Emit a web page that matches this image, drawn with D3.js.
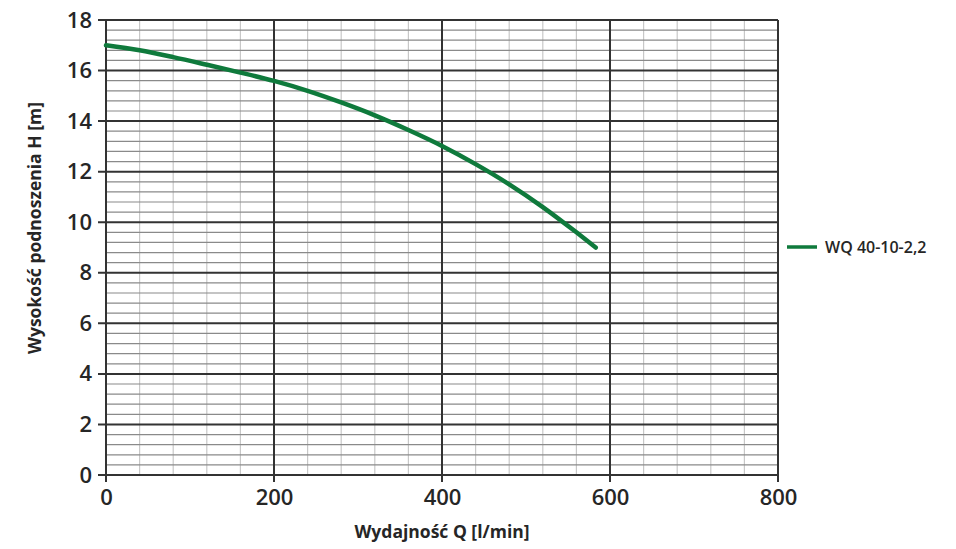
<!DOCTYPE html>
<html>
<head>
<meta charset="utf-8">
<script src="https://cdn.jsdelivr.net/npm/d3@7"></script>
<style>
  body { margin: 0; background: #fff; }
  text { font-family: "Open Sans", sans-serif; fill: #262626; }
</style>
</head>
<body>
<div id="chart"></div>
<script>
// flow Q [l/min] and head H [m]
var flowQ = [0, 40, 80, 120, 160, 200, 240, 280, 320, 360, 400, 440, 480, 520, 560, 583];
var headH = [17.0, 16.8, 16.53, 16.23, 15.92, 15.59, 15.2, 14.74, 14.23, 13.65, 13.02, 12.3, 11.5, 10.6, 9.6, 9.0];
var seriesName = "WQ 40-10-2,2";
var xTicks = [0, 200, 400, 600, 800];
var yTicks = [0, 2, 4, 6, 8, 10, 12, 14, 16, 18];

function init() {
    var width = 956, height = 549;
    var left = 106, right = 778, top = 20, bottom = 475;

    var x = d3.scaleLinear().domain([0, 800]).range([left, right]);
    var y = d3.scaleLinear().domain([0, 18]).range([bottom, top]);

    var svg = d3.select("#chart").append("svg")
        .attr("width", width)
        .attr("height", height);

    // minor grid
    var xMinor = d3.range(0, 801, 40).filter(d => d % 200 !== 0);
    var yMinor = d3.range(0, 90, 2).map(d => d / 5).filter(d => Math.abs(d / 2 - Math.round(d / 2)) > 1e-6);

    svg.append("g").selectAll("line")
        .data(xMinor)
        .enter().append("line")
        .attr("x1", d => x(d)).attr("x2", d => x(d))
        .attr("y1", top).attr("y2", bottom)
        .attr("stroke", "#c8c8c8")
        .attr("stroke-width", 1.2);

    svg.append("g").selectAll("line")
        .data(yMinor)
        .enter().append("line")
        .attr("x1", left).attr("x2", right)
        .attr("y1", d => y(d)).attr("y2", d => y(d))
        .attr("stroke", "#8a8a8a")
        .attr("stroke-width", 1.2);

    // major grid
    svg.append("g").selectAll("line")
        .data(xTicks)
        .enter().append("line")
        .attr("x1", d => x(d)).attr("x2", d => x(d))
        .attr("y1", top).attr("y2", bottom + 7)
        .attr("stroke", "#333")
        .attr("stroke-width", 2);

    svg.append("g").selectAll("line")
        .data(yTicks)
        .enter().append("line")
        .attr("x1", left - 8).attr("x2", right)
        .attr("y1", d => y(d)).attr("y2", d => y(d))
        .attr("stroke", "#333")
        .attr("stroke-width", 2);

    // axes (labels only)
    var xAxis = d3.axisBottom(x).tickValues(xTicks).tickSize(0).tickPadding(14);
    svg.append("g")
        .attr("transform", "translate(0," + bottom + ")")
        .call(xAxis)
        .call(g => g.select(".domain").remove())
        .selectAll("text")
        .attr("font-size", "22px")
        .attr("font-weight", "600")
        .attr("font-family", "'Open Sans', sans-serif")
        .attr("fill", "#262626");

    var yAxis = d3.axisLeft(y).tickValues(yTicks).tickSize(0).tickPadding(14);
    svg.append("g")
        .attr("transform", "translate(" + left + ",0)")
        .call(yAxis)
        .call(g => g.select(".domain").remove())
        .selectAll("text")
        .attr("font-size", "22px")
        .attr("font-weight", "600")
        .attr("font-family", "'Open Sans', sans-serif")
        .attr("fill", "#262626");

    // curve
    var pts = flowQ.map((q, i) => [q, headH[i]]);
    var line = d3.line()
        .x(d => x(d[0]))
        .y(d => y(d[1]))
        .curve(d3.curveMonotoneX);

    svg.append("path")
        .datum(pts)
        .attr("d", line)
        .attr("fill", "none")
        .attr("stroke", "#0f7a3c")
        .attr("stroke-width", 4.5)
        .attr("stroke-linecap", "round");

    // axis titles
    svg.append("text")
        .attr("x", 442)
        .attr("y", 538)
        .attr("text-anchor", "middle")
        .attr("font-size", "17.5px")
        .attr("font-weight", "bold")
        .text("Wydajność Q [l/min]");

    svg.append("text")
        .attr("transform", "translate(41,228) rotate(-90)")
        .attr("text-anchor", "middle")
        .attr("font-size", "17.5px")
        .attr("font-weight", "bold")
        .text("Wysokość podnoszenia H [m]");

    // legend
    var legend = svg.append("g").attr("transform", "translate(787,247)");
    legend.append("line")
        .attr("x1", 0).attr("x2", 30)
        .attr("y1", 0).attr("y2", 0)
        .attr("stroke", "#0f7a3c")
        .attr("stroke-width", 3.5);
    legend.append("text")
        .attr("x", 38)
        .attr("y", 0)
        .attr("dy", "0.35em")
        .attr("font-size", "16px")
        .attr("font-weight", "600")
        .text(seriesName);
}
window.onload = init;
</script>
</body>
</html>
